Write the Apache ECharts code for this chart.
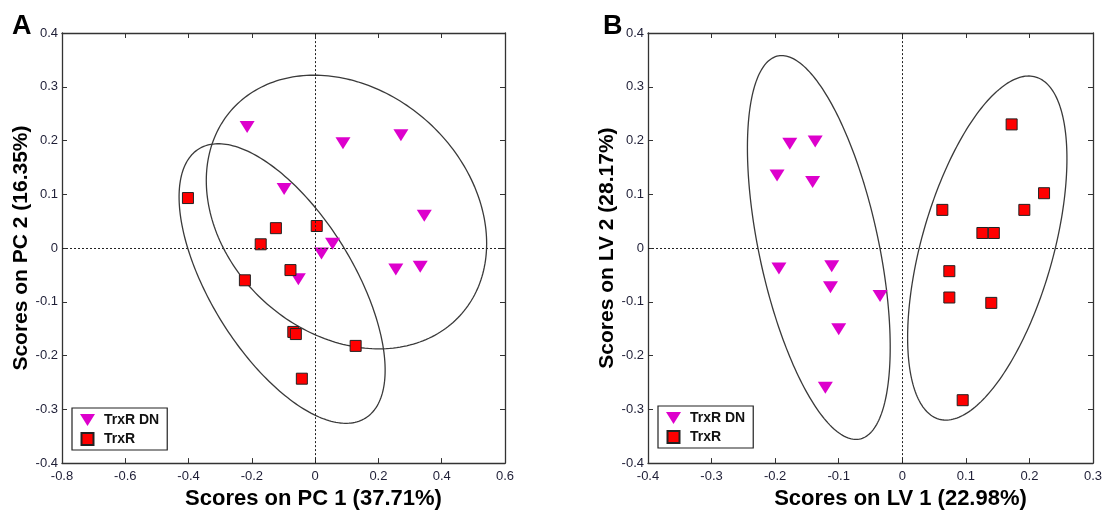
<!DOCTYPE html>
<html>
<head>
<meta charset="utf-8">
<script src="https://cdn.jsdelivr.net/npm/echarts@6/dist/echarts.min.js"></script>
<style>
html,body{margin:0;padding:0;background:#fff;}
#chart{width:1107px;height:515px;}
</style>
</head>
<body>
<div id="chart"></div>
<script>
// ---- Data ----
const seriesNames = ['TrxR DN', 'TrxR'];
const panelLetters = ['A', 'B'];
const xTitles = ['Scores on PC 1 (37.71%)', 'Scores on LV 1 (22.98%)'];
const yTitles = ['Scores on PC 2 (16.35%)', 'Scores on LV 2 (28.17%)'];

// axis ranges [min, max, interval]
const pcaXRange = [-0.8, 0.6, 0.2];
const pcaYRange = [-0.4, 0.4, 0.1];
const plsXRange = [-0.4, 0.3, 0.1];
const plsYRange = [-0.4, 0.4, 0.1];

// Panel A (PCA scores)
const pcaDN = [[-0.215,0.225],[0.088,0.195],[0.271,0.21],[-0.098,0.11],[0.345,0.06],
               [0.055,0.008],[0.02,-0.01],[-0.053,-0.058],[0.255,-0.04],[0.332,-0.035]];
const pcaR  = [[-0.402,0.093],[-0.124,0.037],[-0.172,0.007],[0.005,0.041],[-0.078,-0.041],
               [-0.222,-0.06],[-0.069,-0.156],[-0.061,-0.16],[0.128,-0.182],[-0.042,-0.243]];
// Panel B (PLS-DA scores)
const plsDN = [[-0.177,0.194],[-0.137,0.198],[-0.197,0.135],[-0.141,0.123],[-0.194,-0.038],
               [-0.111,-0.034],[-0.113,-0.073],[-0.035,-0.089],[-0.1,-0.151],[-0.121,-0.26]];
const plsR  = [[0.172,0.23],[0.223,0.102],[0.063,0.071],[0.192,0.071],[0.126,0.028],
               [0.144,0.028],[0.074,-0.043],[0.074,-0.092],[0.14,-0.102],[0.095,-0.283]];

// confidence ellipses: [centerX, centerY, halfExtentX, halfExtentY, phaseDeg]
const pcaEllipses = [[0.099,0.067,0.443,0.2545,103.3],[-0.1044,-0.066,0.3256,0.26,128.3]];
const plsEllipses = [[-0.1313,0.001,0.1123,0.357,121.3],[0.1337,0.0,0.1253,0.32,58.7]];

// ---- Styling ----
const FONT = '"Liberation Sans", Arial, Helvetica, sans-serif';
const TRI = 'path://M0,0L15,0L7.5,12Z';
const SQ = 'path://M0,0L10,0L10,10L0,10Z';
const MAGENTA = '#dd00cc';
const RED = '#ff0000';
const LABEL_COLOR = '#1e1e36';
const AXIS_COLOR = '#333';

const grids = [
  {left: 62, top: 33, width: 443, height: 437},
  {left: 648, top: 33, width: 445, height: 437}
];

function fmt(v){ return String(parseFloat(v.toFixed(3))); }

function makeX(gridIndex, range, title, pos){
  const main = pos === 'bottom';
  return {
    type: 'value', gridIndex, position: pos,
    min: range[0], max: range[1], interval: range[2],
    name: main ? title : '', nameLocation: 'middle', nameGap: 21,
    nameTextStyle: {fontFamily: FONT, fontWeight: 'bold', fontSize: 22, color: '#000', padding: [0, 0, 0, 60]},
    axisLine: {show: true, onZero: false, lineStyle: {color: AXIS_COLOR, width: 1.3}},
    axisTick: {show: true, inside: true, length: 5, lineStyle: {color: AXIS_COLOR, width: 1}},
    axisLabel: {show: main, margin: 7, fontFamily: FONT, fontSize: 13, color: LABEL_COLOR, formatter: fmt},
    splitLine: {show: false}
  };
}
function makeY(gridIndex, range, title, pos){
  const main = pos === 'left';
  return {
    type: 'value', gridIndex, position: pos,
    min: range[0], max: range[1], interval: range[2],
    name: main ? title : '', nameLocation: 'middle', nameGap: 28,
    nameTextStyle: {fontFamily: FONT, fontWeight: 'bold', fontSize: 21, color: '#000'},
    axisLine: {show: true, onZero: false, lineStyle: {color: AXIS_COLOR, width: 1.3}},
    axisTick: {show: true, inside: true, length: 5, lineStyle: {color: AXIS_COLOR, width: 1}},
    axisLabel: {show: main, margin: 4, fontFamily: FONT, fontSize: 13, color: LABEL_COLOR, formatter: fmt},
    splitLine: {show: false}
  };
}

function renderEllipse(params, api){
  const cx = api.value(0), cy = api.value(1), rx = api.value(2), ry = api.value(3);
  const ph = api.value(4) * Math.PI / 180;
  const pts = [];
  const N = 240;
  for (let i = 0; i <= N; i++){
    const t = i / N * 2 * Math.PI;
    pts.push(api.coord([cx + rx * Math.cos(t), cy + ry * Math.cos(t - ph)]));
  }
  return {type: 'polyline', shape: {points: pts}, silent: true,
          style: {fill: null, stroke: '#3a3a3a', lineWidth: 1.3}};
}

const zeroLines = {
  silent: true, symbol: 'none', label: {show: false}, animation: false,
  lineStyle: {type: [2, 2], color: '#222', width: 1},
  emphasis: {disabled: true},
  data: [{xAxis: 0}, {yAxis: 0}]
};

function panelSeries(xi, yi, dn, r, ell){
  return [
    {type: 'custom', xAxisIndex: xi, yAxisIndex: yi, renderItem: renderEllipse,
     data: ell, z: 1, silent: true, encode: {x: 0, y: 1}},
    {name: seriesNames[0], type: 'scatter', xAxisIndex: xi, yAxisIndex: yi, data: dn,
     symbol: TRI, symbolSize: [15, 12], itemStyle: {color: MAGENTA, opacity: 1}, z: 3,
     markLine: zeroLines},
    {name: seriesNames[1], type: 'scatter', xAxisIndex: xi, yAxisIndex: yi, data: r,
     symbol: 'rect', symbolSize: 11,
     itemStyle: {color: RED, borderColor: '#222', borderWidth: 1, opacity: 1}, z: 4}
  ];
}

function makeLegend(left, top){
  return {
    orient: 'vertical', left, top,
    padding: [5, 8, 4, 8], itemGap: 5, itemWidth: 15, itemHeight: 12,
    borderColor: '#222', borderWidth: 1.2, backgroundColor: '#fff',
    selectedMode: false,
    textStyle: {fontFamily: FONT, fontWeight: 'bold', fontSize: 14, color: '#111', padding: [0, 0, 0, 4]},
    data: [{name: seriesNames[0], icon: TRI}, {name: seriesNames[1], icon: SQ}]
  };
}

const option = {
  animation: false,
  backgroundColor: '#fff',
  grid: grids,
  xAxis: [
    makeX(0, pcaXRange, xTitles[0], 'bottom'), makeX(0, pcaXRange, '', 'top'),
    makeX(1, plsXRange, xTitles[1], 'bottom'), makeX(1, plsXRange, '', 'top')
  ],
  yAxis: [
    makeY(0, pcaYRange, yTitles[0], 'left'), makeY(0, pcaYRange, '', 'right'),
    makeY(1, plsYRange, yTitles[1], 'left'), makeY(1, plsYRange, '', 'right')
  ],
  legend: [makeLegend(72, 408), makeLegend(658, 406)],
  graphic: [
    {type: 'text', left: 12, top: 13, style: {text: panelLetters[0], font: 'bold 27px ' + FONT, fill: '#000'}},
    {type: 'text', left: 603, top: 13, style: {text: panelLetters[1], font: 'bold 27px ' + FONT, fill: '#000'}}
  ],
  series: [].concat(
    panelSeries(0, 0, pcaDN, pcaR, pcaEllipses),
    panelSeries(2, 2, plsDN, plsR, plsEllipses)
  )
};

const chart = echarts.init(document.getElementById('chart'), null, {renderer: 'canvas'});
chart.setOption(option);
</script>
</body>
</html>
